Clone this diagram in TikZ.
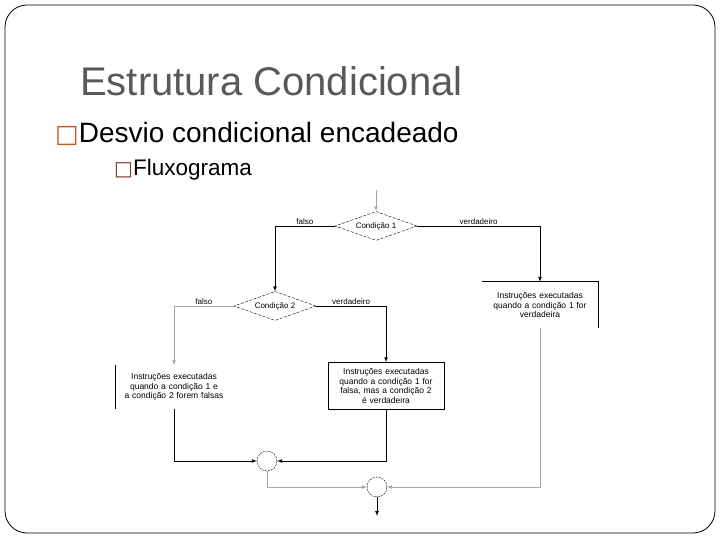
\documentclass[tikz,border=0pt]{standalone}
\usepackage{fontspec}
\setmainfont{Liberation Sans}
\newfontfamily\simbolos{DejaVu Sans}
\usetikzlibrary{shapes.geometric}
\definecolor{cinzatitulo}{RGB}{89,89,89}
\definecolor{laranja}{RGB}{192,88,40}
\definecolor{marrom}{RGB}{125,55,35}

\begin{document}
\begin{tikzpicture}[x=1pt,y=-1pt,
    decisao/.style={diamond,draw,aspect=2.8,line width=0.4pt,dash pattern=on 3pt off 1.5pt,
        minimum width=82pt,minimum height=29pt,inner sep=0pt,font=\fontsize{8}{9}\selectfont},
    caixa/.style={text width=112pt,align=center,inner sep=2pt,font=\fontsize{8.5}{9.5}\selectfont},
    juncao/.style={circle,draw,line width=0.4pt,dash pattern=on 2pt off 1pt,minimum size=20pt,inner sep=0pt},
    rotulo/.style={font=\fontsize{8}{9}\selectfont,above,inner sep=1.5pt},
    seta/.style={-latex,line width=0.7pt},
    linha/.style={line width=0.7pt},
    clara/.style={draw=gray!70}]
    \useasboundingbox (0,0) rectangle (720,540);
    % moldura do slide
    \draw[line width=0.8pt,rounded corners=22pt] (5,5) rectangle (715,533);

    % titulo e topicos
    \node[anchor=base west,text=cinzatitulo,font=\fontsize{40}{40}\selectfont,inner sep=0pt] (titulo) at (80,96) {Estrutura Condicional};
    \node[anchor=base west,font=\fontsize{28}{28}\selectfont,inner sep=0pt] (topico) at (55,143) {{\simbolos\fontsize{25}{25}\selectfont\color{laranja}□}Desvio condicional encadeado};
    \node[anchor=base west,font=\fontsize{22.5}{22.5}\selectfont,inner sep=0pt] (subtopico) at (114,176) {{\simbolos\fontsize{20}{20}\selectfont\color{marrom}□}Fluxograma};

    % fluxograma
    \coordinate (entrada) at (376,190);
    \node[decisao] (cond1) at (376,226) {Condição 1};
    \node[decisao] (cond2) at (275,306) {Condição 2};
    \node[caixa,minimum height=46pt] (verd1) at (540,305) {Instruções executadas\\quando a condição 1 for\\verdadeira};
    \node[caixa,minimum height=43pt] (falsas) at (174,387) {Instruções executadas\\quando a condição 1 e\\a condição 2 forem falsas};
    \node[caixa,draw,linha,minimum height=47pt] (verd2) at (386,386) {Instruções executadas\\quando a condição 1 for\\falsa, mas a condição 2\\é verdadeira};
    \node[juncao] (junta1) at (267,461) {};
    \node[juncao] (junta2) at (377,487) {};
    \coordinate (saida) at (377,516);

    % bordas das caixas
    \draw[linha] (falsas.north west) -- (falsas.south west);
    \draw[linha] (verd1.north west) -- (verd1.north east) -- (verd1.south east);

    % ligacoes
    \draw[seta,clara] (entrada) -- (cond1.north);
    \draw[seta] (cond1.west) -| node[rotulo,pos=0.25]{falso} (cond2.north);
    \draw[seta] (cond1.east) -| node[rotulo,pos=0.25]{verdadeiro} (verd1.north);
    \draw[seta,clara] (cond2.west) -| node[rotulo,pos=0.25]{falso} (falsas.north);
    \draw[seta] (cond2.east) -| node[rotulo,pos=0.25]{verdadeiro} (verd2.north);
    \draw[seta] (falsas.south) |- (junta1.west);
    \draw[seta] (verd2.south) |- (junta1.east);
    \draw[seta,clara] (junta1.south) |- (junta2.west);
    \draw[seta,clara] (verd1.south) |- (junta2.east);
    \draw[seta] (junta2.south) -- (saida);

\end{tikzpicture}
\end{document}
